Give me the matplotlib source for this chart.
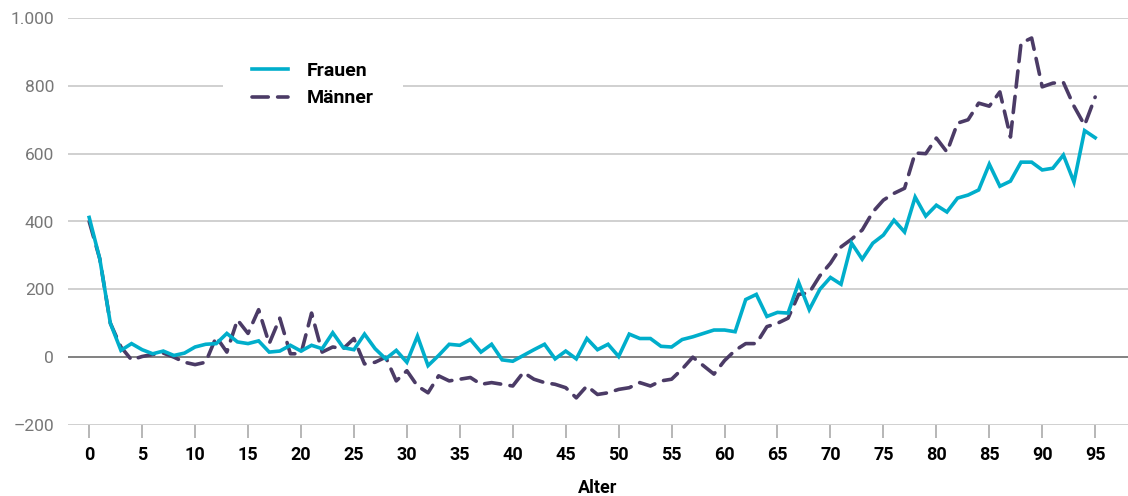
import matplotlib
matplotlib.use("Agg")
import matplotlib.pyplot as plt
from matplotlib.ticker import FuncFormatter

ages = list(range(0, 96))

frauen = [412, 290, 100, 20, 40, 22, 10, 18, 5, 12,
          30, 38, 40, 70, 45, 40, 48, 15, 18, 35,
          18, 35, 25, 72, 28, 22, 68, 25, -5, 20,
          -15, 62, -25, 5, 38, 35, 52, 15, 38, -8,
          -12, 5, 22, 38, -5, 18, -5, 55, 22, 38,
          2, 68, 55, 55, 32, 30, 52, 60, 70, 80,
          80, 75, 170, 185, 120, 132, 130, 220, 140, 200,
          235, 215, 336, 289, 336, 360, 404, 369, 472, 416,
          448, 428, 469, 478, 493, 569, 504, 519, 575, 575,
          552, 557, 596, 516, 668, 647]

maenner = [400, 290, 100, 30, -8, 2, 8, 12, 0, -15,
           -22, -15, 60, 15, 110, 70, 140, 40, 115, 10,
           10, 130, 15, 30, 25, 55, -20, -15, 0, -70,
           -40, -85, -105, -55, -70, -65, -60, -80, -75, -80,
           -85, -45, -65, -75, -80, -90, -120, -85, -110, -105,
           -95, -90, -75, -85, -70, -65, -35, 0, -25, -50,
           -10, 20, 40, 40, 90, 100, 115, 185, 190, 240,
           277, 325, 348, 375, 428, 463, 483, 498, 602, 600,
           646, 605, 690, 700, 749, 740, 782, 649, 926, 941,
           797, 808, 810, 740, 684, 767]

xticks = list(range(0, 96, 5))
yticks = [-200, 0, 200, 400, 600, 800, 1000]

col_f = "#00aecb"
col_m = "#4b3b66"

plt.rcParams['font.family'] = ['Roboto', 'DejaVu Sans']

fig = plt.figure(figsize=(11.28, 4.96), dpi=100)
ax = fig.add_axes([68 / 1128, 1 - 425 / 496, 1 - 68 / 1128, (425 - 18) / 496])

for y in yticks:
    if y == 0:
        ax.axhline(y, color="#777777", lw=1.3, zorder=1)
    else:
        ax.axhline(y, color="#c4c4c4", lw=1.1, zorder=1)

ax.plot(ages, frauen, color=col_f, lw=2.6, label="Frauen", zorder=3,
        solid_joinstyle="miter")
ax.plot(ages, maenner, color=col_m, lw=2.6, label="Männer", zorder=2,
        dashes=(4.5, 2.6), dash_capstyle="round")

ax.set_xlim(-2, 98.1)
ax.set_ylim(-200, 1000)
for s in ax.spines.values():
    s.set_visible(False)

ax.set_xticks(xticks)
ax.set_yticks(yticks)
ax.yaxis.set_major_formatter(FuncFormatter(
    lambda v, p: ("–" if v < 0 else "") + f"{abs(int(v)):,}".replace(",", ".")))
ax.tick_params(axis="y", length=0, pad=10, labelsize=12.5, labelcolor="#777777")
ax.tick_params(axis="x", length=9, width=1.2, color="#aaaaaa", pad=6,
               labelsize=13)
for t in ax.get_xticklabels():
    t.set_fontweight("bold")

ax.set_xlabel("Alter", fontsize=13, fontweight="bold", labelpad=11)

leg = ax.legend(loc="upper left", bbox_to_anchor=(145 / 1060, 0.988),
                frameon=True, fancybox=False, framealpha=1, edgecolor="none",
                facecolor="white", handlelength=1.85, handletextpad=0.95,
                labelspacing=0.5, borderpad=1.5,
                prop={"weight": "bold", "size": 14})
leg.set_zorder(5)

fig.savefig("out.png", dpi=100)
